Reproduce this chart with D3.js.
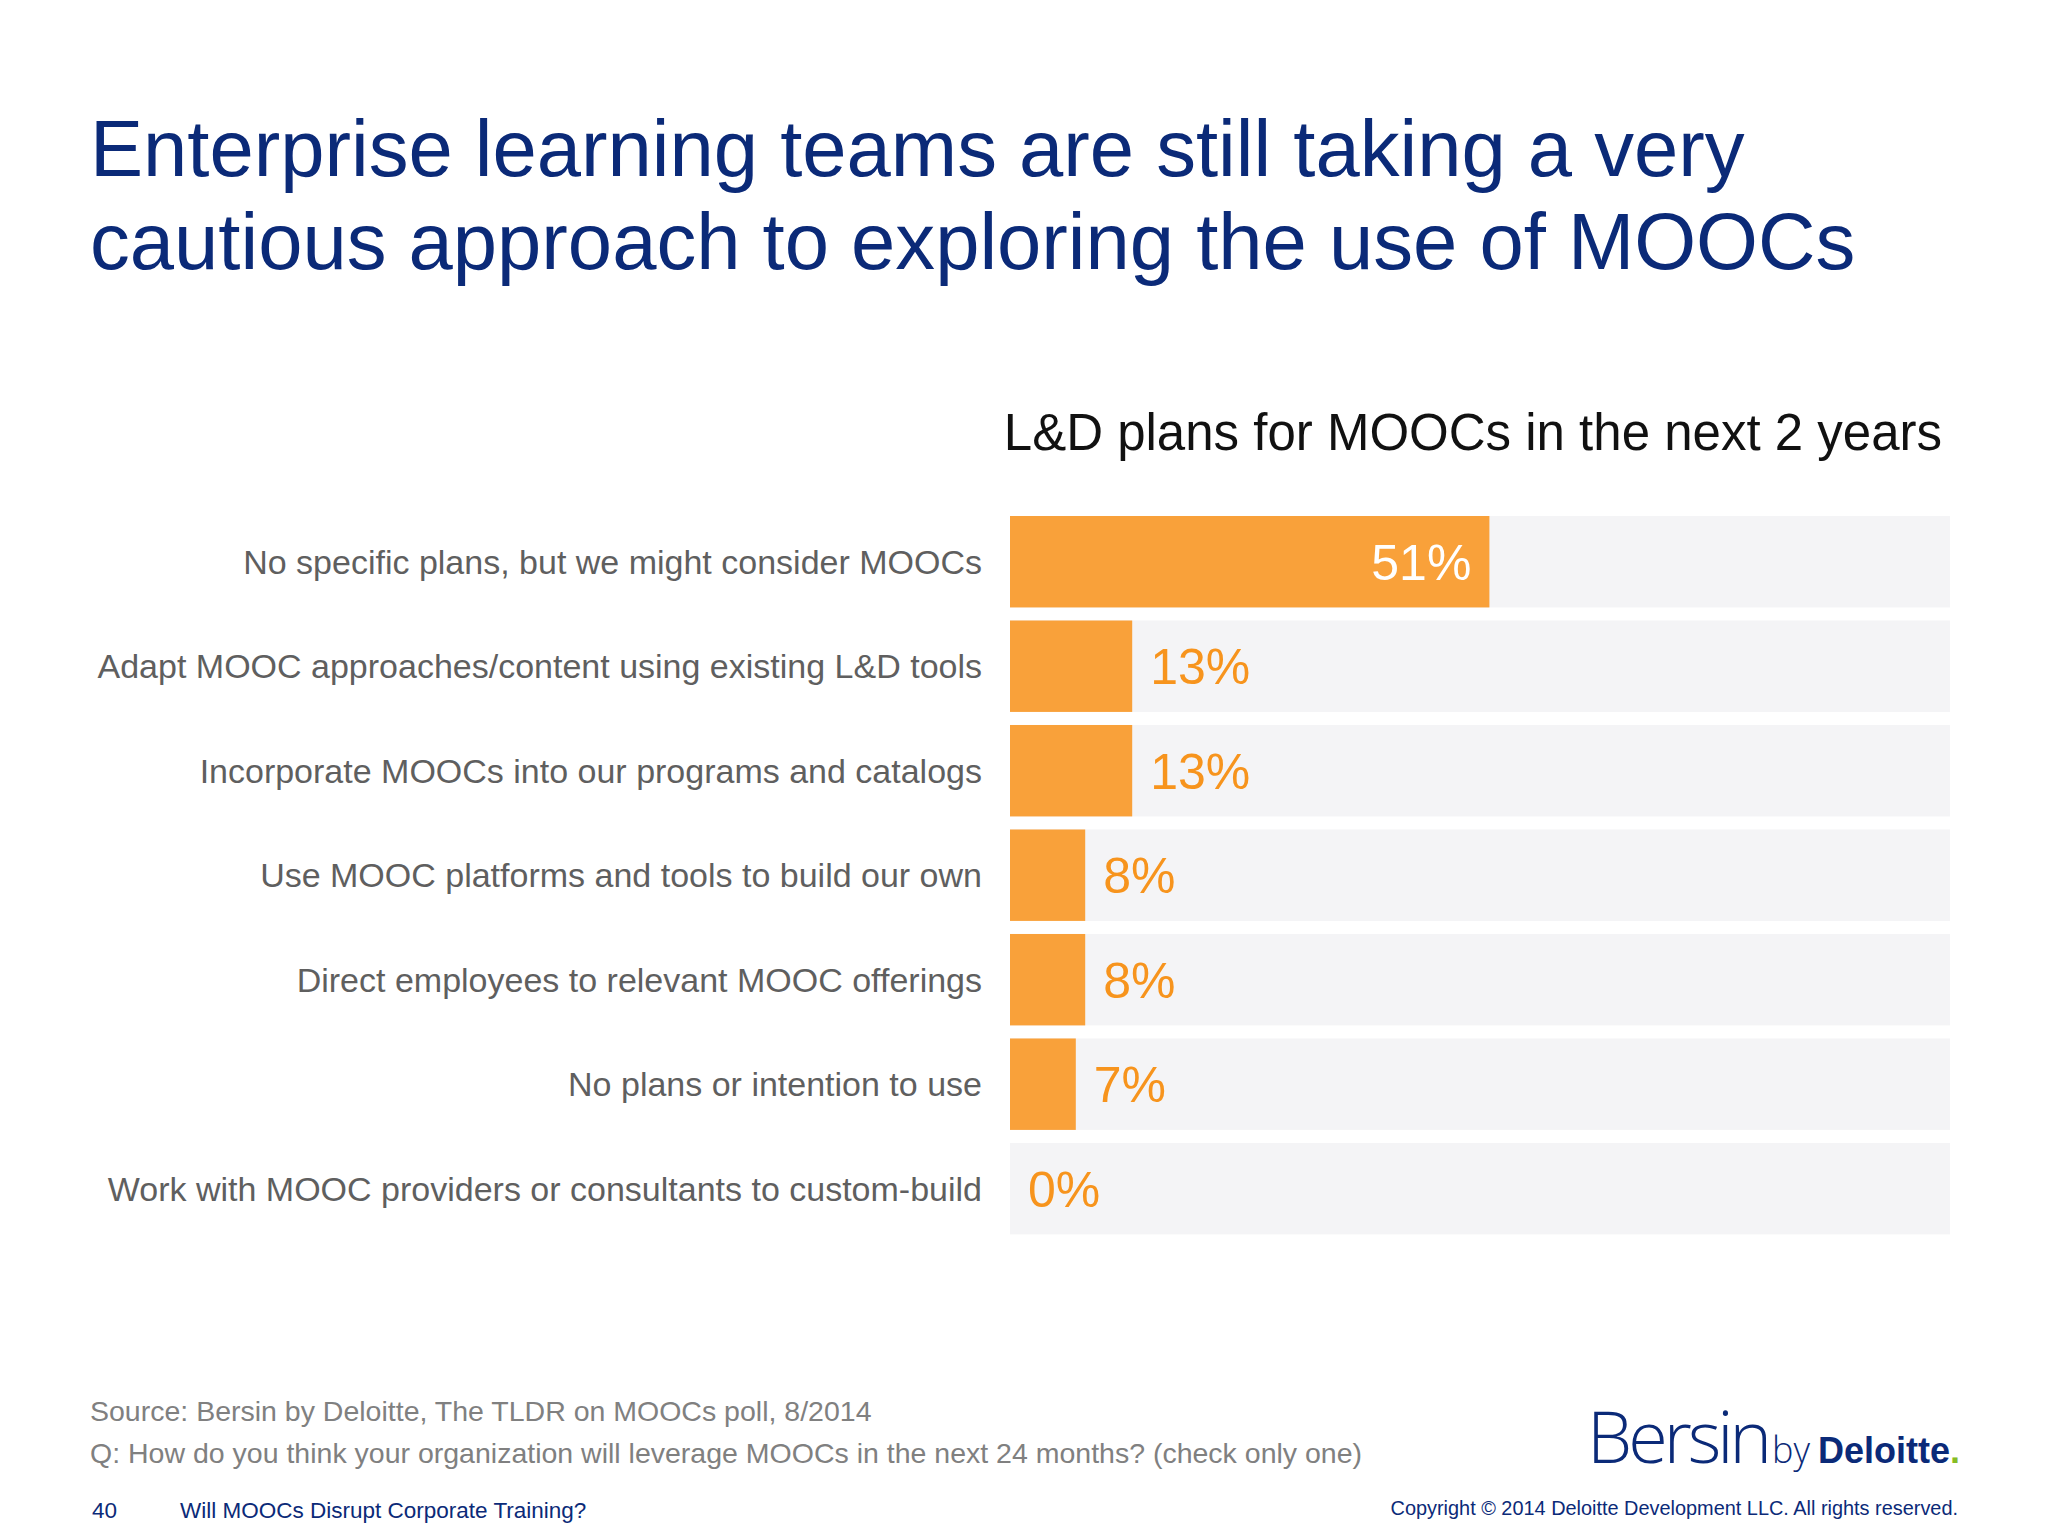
<!DOCTYPE html>
<html><head><meta charset="utf-8">
<script src="https://cdn.jsdelivr.net/npm/d3@7"></script>
<style>body{margin:0;background:#fff}svg{display:block;font-family:"Liberation Sans",Arial,sans-serif}</style>
</head><body><svg id="c" width="2048" height="1536"></svg>
<script>
const categories = [
  "No specific plans, but we might consider MOOCs",
  "Adapt MOOC approaches/content using existing L&D tools",
  "Incorporate MOOCs into our programs and catalogs",
  "Use MOOC platforms and tools to build our own",
  "Direct employees to relevant MOOC offerings",
  "No plans or intention to use",
  "Work with MOOC providers or consultants to custom-build"
];
const values = [51, 13, 13, 8, 8, 7, 0];
const valueLabels = ["51%", "13%", "13%", "8%", "8%", "7%", "0%"];

const svg = d3.select("#c");
const navy = "#0b2a78";
const x = d3.scaleLinear().domain([0, 100]).range([1010, 1950]);
const y = d3.scaleBand().domain(categories).range([516, 1234.4]).paddingInner(0.125).paddingOuter(0);

svg.append("text").attr("x", 90).attr("y", 176).attr("font-size", 79.6).attr("fill", navy).text("Enterprise learning teams are still taking a very");
svg.append("text").attr("x", 90).attr("y", 269).attr("font-size", 79.6).attr("fill", navy).text("cautious approach to exploring the use of MOOCs");
svg.append("text").attr("x", 1942).attr("y", 450).attr("text-anchor", "end").attr("font-size", 51).attr("fill", "#111").text("L&D plans for MOOCs in the next 2 years");

const g = svg.append("g");
g.selectAll("rect.track").data(categories).join("rect").attr("class", "track")
  .attr("x", x(0)).attr("width", x(100) - x(0)).attr("y", d => y(d)).attr("height", y.bandwidth()).attr("fill", "#f4f4f6");
g.selectAll("rect.bar").data(values).join("rect").attr("class", "bar")
  .attr("x", x(0)).attr("width", d => x(d) - x(0)).attr("y", (d, i) => y(categories[i])).attr("height", y.bandwidth()).attr("fill", "#f9a13a");
g.selectAll("text.cat").data(categories).join("text").attr("class", "cat")
  .attr("x", 982).attr("y", d => y(d) + y.bandwidth() / 2 + 12).attr("text-anchor", "end")
  .attr("font-size", 34).attr("fill", "#5f5f5f").text(d => d);
g.selectAll("text.val").data(values).join("text").attr("class", "val")
  .attr("x", (d, i) => i === 0 ? x(d) - 18 : x(d) + 18)
  .attr("text-anchor", (d, i) => i === 0 ? "end" : "start")
  .attr("y", (d, i) => y(categories[i]) + y.bandwidth() / 2 + 18)
  .attr("font-size", 50).attr("fill", (d, i) => i === 0 ? "#fff" : "#f7941d")
  .text((d, i) => valueLabels[i]);

svg.append("text").attr("x", 90).attr("y", 1421).attr("font-size", 28.5).attr("fill", "#808080").text("Source: Bersin by Deloitte, The TLDR on MOOCs poll, 8/2014");
svg.append("text").attr("x", 90).attr("y", 1463).attr("font-size", 28.5).attr("fill", "#808080").text("Q: How do you think your organization will leverage MOOCs in the next 24 months? (check only one)");
svg.append("text").attr("x", 92).attr("y", 1518).attr("font-size", 22.5).attr("fill", navy).text("40");
svg.append("text").attr("x", 180).attr("y", 1518).attr("font-size", 22.5).attr("fill", navy).text("Will MOOCs Disrupt Corporate Training?");
svg.append("text").attr("x", 1958).attr("y", 1515).attr("text-anchor", "end").attr("font-size", 19.9).attr("fill", navy).text("Copyright © 2014 Deloitte Development LLC. All rights reserved.");

const logo = svg.append("text").attr("x", 1587).attr("y", 1463).attr("fill", navy);
logo.append("tspan").attr("font-size", 72).attr("font-family", "Open Sans").attr("font-weight", 300).attr("letter-spacing", -4).text("Bersin");
logo.append("tspan").attr("font-size", 36).attr("font-family", "Open Sans").attr("font-weight", 300).attr("dx", 4).text("by");
logo.append("tspan").attr("font-size", 36).attr("font-weight", "bold").attr("dx", 8).text("Deloitte");
logo.append("tspan").attr("font-size", 36).attr("font-weight", "bold").attr("fill", "#86bc25").text(".");
</script></body></html>
